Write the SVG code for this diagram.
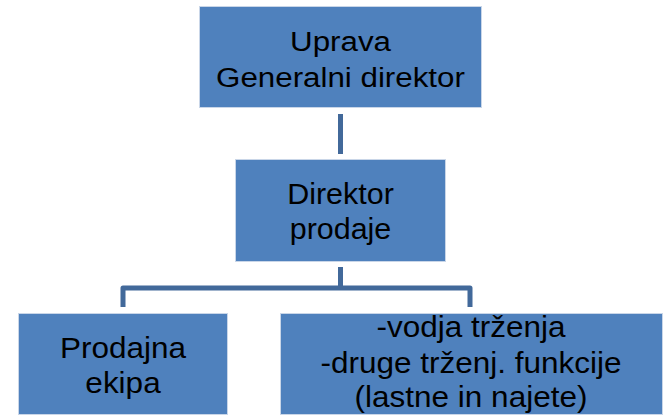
<svg xmlns="http://www.w3.org/2000/svg" width="663" height="419" viewBox="0 0 663 419">
  <style>
    .box { fill: #4F81BD; stroke: #C9D6E8; stroke-width: 1; }
    .lbl { font-family: "Liberation Sans", Arial, sans-serif; fill: #000000; text-anchor: middle; }
    .conn { fill: none; stroke: #42699A; stroke-width: 5; stroke-linejoin: round; }
  </style>
  <rect width="663" height="419" fill="#FFFFFF"/>

  <!-- connectors -->
  <g id="connectors">
    <line class="conn" x1="340.5" y1="114" x2="340.5" y2="154"/>
    <line class="conn" x1="340.5" y1="267" x2="340.5" y2="288"/>
    <polyline class="conn" points="123,307 123,288 470,288 470,307"/>
  </g>

  <!-- Uprava / Generalni direktor -->
  <g id="uprava">
    <rect class="box" x="199.5" y="6.5" width="282" height="101"/>
    <g transform="translate(340.5 0) scale(1.16 1)">
      <text class="lbl" x="0" y="51" font-size="27">Uprava</text>
      <text class="lbl" x="0" y="87" font-size="27">Generalni direktor</text>
    </g>
  </g>

  <!-- Direktor prodaje -->
  <g id="direktor-prodaje">
    <rect class="box" x="235.5" y="159.5" width="210" height="102"/>
    <g transform="translate(340.5 0) scale(1.05 1)">
      <text class="lbl" x="0" y="204" font-size="29">Direktor</text>
      <text class="lbl" x="0" y="239" font-size="29">prodaje</text>
    </g>
  </g>

  <!-- Prodajna ekipa -->
  <g id="prodajna-ekipa">
    <rect class="box" x="18.5" y="313.5" width="209" height="101"/>
    <g transform="translate(123 0) scale(1.05 1)">
      <text class="lbl" x="0" y="358" font-size="30">Prodajna</text>
      <text class="lbl" x="0" y="393" font-size="30">ekipa</text>
    </g>
  </g>

  <!-- Trženje -->
  <g id="trzenje">
    <rect class="box" x="280.5" y="313.5" width="382" height="101"/>
    <g transform="translate(471 0) scale(1.05 1)">
      <text class="lbl" x="0" y="337" font-size="30">-vodja trženja</text>
      <text class="lbl" x="0" y="373" font-size="30">-druge trženj. funkcije</text>
      <text class="lbl" x="0" y="407" font-size="30">(lastne in najete)</text>
    </g>
  </g>
</svg>
